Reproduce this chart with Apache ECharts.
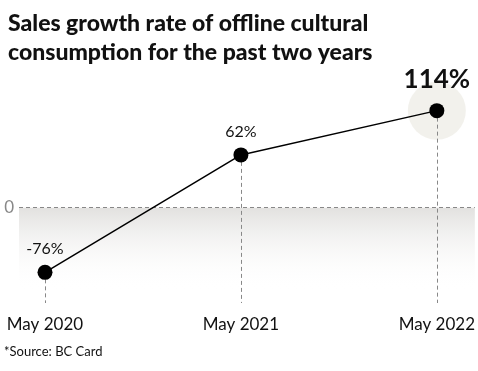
<!DOCTYPE html>
<html><head><meta charset="utf-8">
<script src="https://cdn.jsdelivr.net/npm/echarts@6/dist/echarts.min.js"></script>
<style>html,body{margin:0;padding:0;background:#fff}#c{width:478px;height:371px}</style>
</head><body><div id="c"></div>
<script>
const categories = ['May 2020', 'May 2021', 'May 2022'];
const values = [-76, 62, 114];
const valueLabels = ['-76%', '62%', '114%'];
const yTicks = [0];
const titleText = 'Sales growth rate of offline cultural\nconsumption for the past two years';
const sourceText = '*Source: BC Card';

const FONT = 'Lato';
const yMin = -112, yMax = 150;
const pts = values.map((v, i) => [i, v]);
const last = pts.length - 1;

const chart = echarts.init(document.getElementById('c'));
chart.setOption({
  animation: false,
  backgroundColor: '#fff',
  title: {
    text: titleText, left: 3, top: 4,
    textStyle: { fontFamily: FONT, fontWeight: 900, fontSize: 23, lineHeight: 29, color: '#111' }
  },
  graphic: [{
    type: 'text', left: 4, top: 345,
    style: { text: sourceText, font: '13px Lato', fill: '#111' }
  }],
  grid: { left: 19, right: 3, top: 80, bottom: 68 },
  xAxis: {
    type: 'value', min: -0.1327, max: 2.194,
    axisLine: { show: false }, axisTick: { show: false }, splitLine: { show: false },
    axisLabel: {
      customValues: categories.map((c, i) => i),
      formatter: v => categories[Math.round(v)] || '',
      fontFamily: FONT, fontSize: 17, color: '#111', margin: 13
    }
  },
  yAxis: {
    type: 'value', min: yMin, max: yMax,
    axisLine: { show: false }, axisTick: { show: false }, splitLine: { show: false },
    axisLabel: { customValues: yTicks, fontFamily: FONT, fontSize: 17, color: '#888', margin: 5 }
  },
  series: [
    {
      type: 'scatter', data: [pts[last]], symbolSize: 58, silent: true, z: 1,
      itemStyle: { color: '#efede7' }
    },
    {
      type: 'line', data: [], z: 2, silent: true,
      markArea: {
        silent: true,
        itemStyle: {
          color: new echarts.graphic.LinearGradient(0, 0, 0, 1, [
            { offset: 0, color: '#e2e1df' }, { offset: 1, color: 'rgba(255,255,255,0)' }
          ])
        },
        data: [[{ xAxis: -0.1327, yAxis: 0 }, { xAxis: 2.194, yAxis: -98 }]]
      },
      markLine: {
        silent: true, symbol: 'none', label: { show: false },
        lineStyle: { color: '#888', type: [4, 3], width: 1 },
        data: [{ yAxis: 0 }].concat(pts.map(p => [
          { coord: [p[0], p[1]] }, { coord: [p[0], yMin] }
        ]))
      }
    },
    {
      type: 'line', z: 5,
      symbol: 'circle', symbolSize: 15,
      lineStyle: { color: '#000', width: 1.5 },
      itemStyle: { color: '#000' },
      label: {
        show: true, position: 'top', distance: 8,
        fontFamily: FONT, fontSize: 16, color: '#111',
        formatter: p => valueLabels[p.dataIndex]
      },
      data: pts.map((p, i) => i === last ? {
        value: p,
        label: { fontSize: 26, fontWeight: 'bold', distance: 11 }
      } : { value: p })
    }
  ]
});
</script></body></html>
